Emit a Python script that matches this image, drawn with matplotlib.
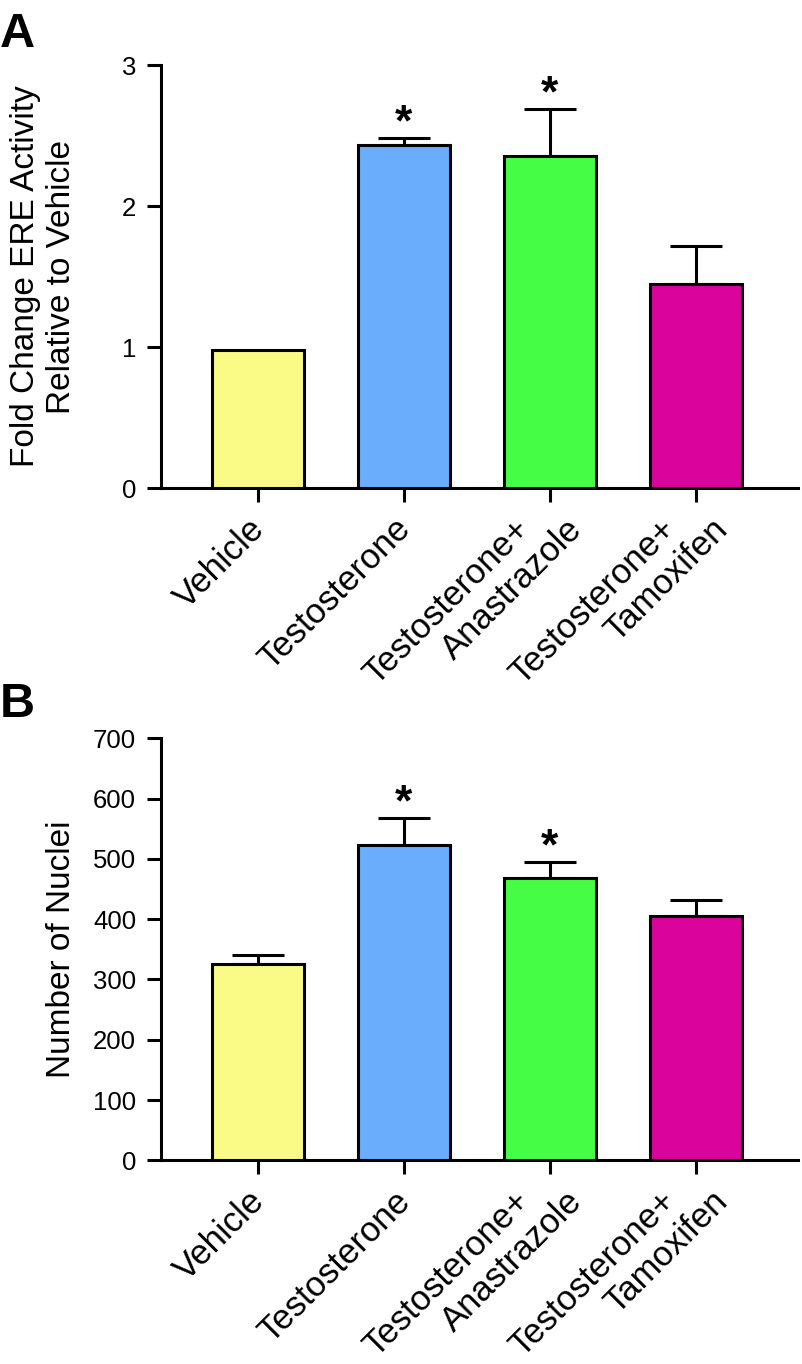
import matplotlib
matplotlib.use('Agg')
import matplotlib.pyplot as plt
import matplotlib.transforms as mtransforms
import numpy as np

plt.rcParams['font.family'] = ['Liberation Sans', 'DejaVu Sans']

# dados
grupos = ['Vehicle', 'Testosterone', 'Testosterone+\nAnastrazole', 'Testosterone+\nTamoxifen']
cores = ['#F9FB86', '#6AADFC', '#45FD45', '#DA039C']

ere_media = [0.98, 2.43, 2.355, 1.447]
ere_erro = [0.0, 0.05, 0.33, 0.27]
ere_sig = [False, True, True, False]

nucleos_media = [325, 523, 468, 405]
nucleos_erro = [15, 45, 27, 27]
nucleos_sig = [False, True, True, False]

LW = 2.2
DPI = 100

fig = plt.figure(figsize=(8.03, 13.64), dpi=DPI)
axA = fig.add_axes([0.2005, 0.6422, 0.7933, 0.3101])
axB = fig.add_axes([0.2005, 0.1493, 0.7933, 0.3095])


def painel(ax, medias, erros, sig, ylim, yticks, ylabel):
    x = np.arange(len(grupos))
    ax.bar(x, medias, width=0.63, color=cores, edgecolor='black', linewidth=LW, zorder=3)
    # barras de erro só para cima
    for xi, m, e in zip(x, medias, erros):
        if e > 0:
            ax.errorbar(xi, m, yerr=[[0], [e]], fmt='none', ecolor='black',
                        elinewidth=LW, capsize=18.4, capthick=LW, zorder=2)
    for xi, m, e, s in zip(x, medias, erros, sig):
        if s:
            ax.annotate('*', xy=(xi, m + e), xytext=(0, 2), textcoords='offset points',
                        ha='center', va='baseline', fontsize=32, fontweight='bold')
    ax.set_xlim(-0.664, 3.699)
    ax.set_ylim(*ylim)
    ax.set_yticks(yticks)
    ax.tick_params(axis='y', labelsize=18.5, length=10, width=LW, pad=8)
    ax.tick_params(axis='x', length=10, width=LW, labelbottom=False)
    ax.set_xticks(x)
    for s in ['top', 'right']:
        ax.spines[s].set_visible(False)
    for s in ['left', 'bottom']:
        ax.spines[s].set_linewidth(LW)
    ax.set_ylabel(ylabel, fontsize=24)
    ax.yaxis.set_label_coords(-0.132, 0.5)

    # rótulos do eixo x, cada linha posicionada em separado
    base = ax.get_xaxis_transform()
    for xi, g in zip(x, grupos):
        linhas = g.split('\n')
        n = len(linhas)
        for i, linha in enumerate(linhas):
            dx = ((i - (n - 1) / 2) * 52 + 1) / DPI
            dy = -36 / DPI
            tr = base + mtransforms.ScaledTranslation(dx, dy, fig.dpi_scale_trans)
            ax.text(xi, 0, linha, transform=tr, rotation=45, rotation_mode='anchor',
                    ha='right', va='center', fontsize=25)


painel(axA, ere_media, ere_erro, ere_sig, (0, 3), [0, 1, 2, 3],
       'Fold Change ERE Activity\nRelative to Vehicle')
painel(axB, nucleos_media, nucleos_erro, nucleos_sig, (0, 700), list(range(0, 701, 100)),
       'Number of Nuclei')

fig.text(0.0, 1 - 47 / 1364, 'A', fontsize=35, fontweight='bold', ha='left', va='baseline')
fig.text(0.0, 1 - 717 / 1364, 'B', fontsize=35, fontweight='bold', ha='left', va='baseline')

fig.savefig('out.png', dpi=DPI)
